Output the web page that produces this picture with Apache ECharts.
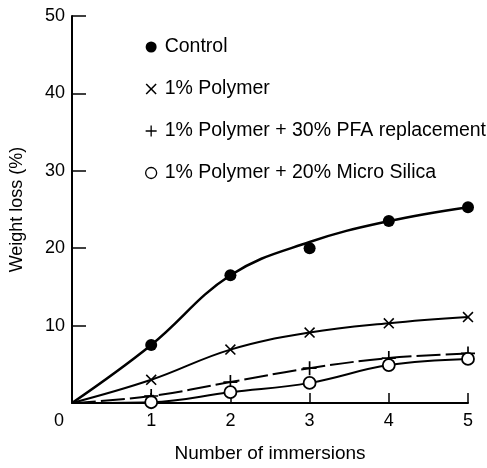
<!DOCTYPE html>
<html>
<head>
<meta charset="utf-8">
<script src="https://cdn.jsdelivr.net/npm/echarts@6/dist/echarts.min.js"></script>
<style>html,body{margin:0;padding:0;background:#fff}#c{width:487px;height:468px}</style>
</head>
<body>
<div id="c"></div>
<script>
const immersions = [0, 1, 2, 3, 4, 5];
const seriesNames = ['Control', '1% Polymer', '1% Polymer + 30% PFA replacement', '1% Polymer + 20% Micro Silica'];
const control = [0, 7.5, 16.5, 20.0, 23.5, 25.3];
const controlCurve = [0, 7.5, 16.5, 20.8, 23.5, 25.3];
const polymer = [0, 3.0, 6.9, 9.1, 10.3, 11.1];
const polymerPfa = [0, 0.9, 2.7, 4.5, 5.8, 6.4];
const polymerSilica = [0, 0.1, 1.4, 2.6, 4.9, 5.7];
const yTicks = [0, 10, 20, 30, 40, 50];

const FONT = 'Liberation Sans, Arial, Helvetica, sans-serif';
const crossPath = 'path://M1,0L5,4L9,0L10,1L6,5L10,9L9,10L5,6L1,10L0,9L4,5L0,1Z';
const plusPath = 'path://M4.4,0H5.6V4.4H10V5.6H5.6V10H4.4V5.6H0V4.4H4.4Z';
// hide marker at the shared origin
const pair = arr => immersions.map((x, i) => i === 0 ? { value: [x, arr[i]], symbol: 'none' } : [x, arr[i]]);

const chart = echarts.init(document.getElementById('c'));
chart.setOption({
  animation: false,
  backgroundColor: '#fff',
  grid: { left: 70, right: 19, top: 16, bottom: 63 },
  legend: {
    orient: 'vertical', left: 140, top: 32, itemGap: 22,
    itemWidth: 11, itemHeight: 11,
    textStyle: { fontFamily: FONT, fontSize: 19.5, color: '#000', padding: [0, 0, 0, 3] },
    data: [
      { name: seriesNames[0], icon: 'circle', itemStyle: { color: '#000', opacity: 1 } },
      { name: seriesNames[1], icon: crossPath, itemStyle: { color: '#000' } },
      { name: seriesNames[2], icon: plusPath, itemStyle: { color: '#000' } },
      { name: seriesNames[3], icon: 'circle', itemStyle: { color: '#fff', borderColor: '#000', borderWidth: 1.3 } }
    ]
  },
  xAxis: {
    type: 'value', min: 0, max: 5, interval: 1,
    name: 'Number of immersions', nameLocation: 'middle', nameGap: 41,
    nameTextStyle: { fontFamily: FONT, fontSize: 19, color: '#000' },
    axisLine: { lineStyle: { color: '#000', width: 2 } },
    axisTick: { inside: true, length: 10, lineStyle: { color: '#000', width: 1.5 } },
    axisLabel: { fontFamily: FONT, fontSize: 18, color: '#000', margin: 9,
      formatter: v => v === 0 ? '{z|0}' : String(v),
      rich: { z: { fontFamily: FONT, fontSize: 18, color: '#000', padding: [0, 26, 0, 0] } } },
    splitLine: { show: false }
  },
  yAxis: {
    type: 'value', min: yTicks[0], max: yTicks[yTicks.length - 1], interval: 10,
    name: 'Weight loss (%)', nameLocation: 'middle', nameGap: 46,
    nameTextStyle: { fontFamily: FONT, fontSize: 18, color: '#000' },
    axisLine: { show: true, lineStyle: { color: '#000', width: 2 } },
    axisTick: { show: true, inside: true, length: 14, lineStyle: { color: '#000', width: 1.5 } },
    axisLabel: { fontFamily: FONT, fontSize: 18, color: '#000', margin: 7,
      formatter: v => v === 0 ? '' : String(v) },
    splitLine: { show: false }
  },
  series: [
    { name: seriesNames[0] + ' curve', type: 'line', smooth: 0.4, data: pair(controlCurve),
      symbol: 'none', lineStyle: { color: '#000', width: 2.5 }, z: 2 },
    { name: seriesNames[0], type: 'scatter', data: immersions.slice(1).map((x, i) => [x, control[i + 1]]),
      symbol: 'circle', symbolSize: 12, itemStyle: { color: '#000', opacity: 1 }, z: 3 },
    { name: seriesNames[1], type: 'line', smooth: 0.4, data: pair(polymer),
      symbol: crossPath, symbolSize: 11,
      lineStyle: { color: '#000', width: 2 }, itemStyle: { color: '#000' } },
    { name: seriesNames[2], type: 'line', smooth: 0.4, data: pair(polymerPfa),
      symbol: plusPath, symbolSize: 14,
      lineStyle: { color: '#000', width: 2, type: [24, 5] }, itemStyle: { color: '#000' } },
    { name: seriesNames[3], type: 'line', smooth: 0.4, data: pair(polymerSilica),
      symbol: 'circle', symbolSize: 12,
      lineStyle: { color: '#000', width: 2 },
      itemStyle: { color: '#fff', borderColor: '#000', borderWidth: 1.8 } }
  ]
});
</script>
</body>
</html>
